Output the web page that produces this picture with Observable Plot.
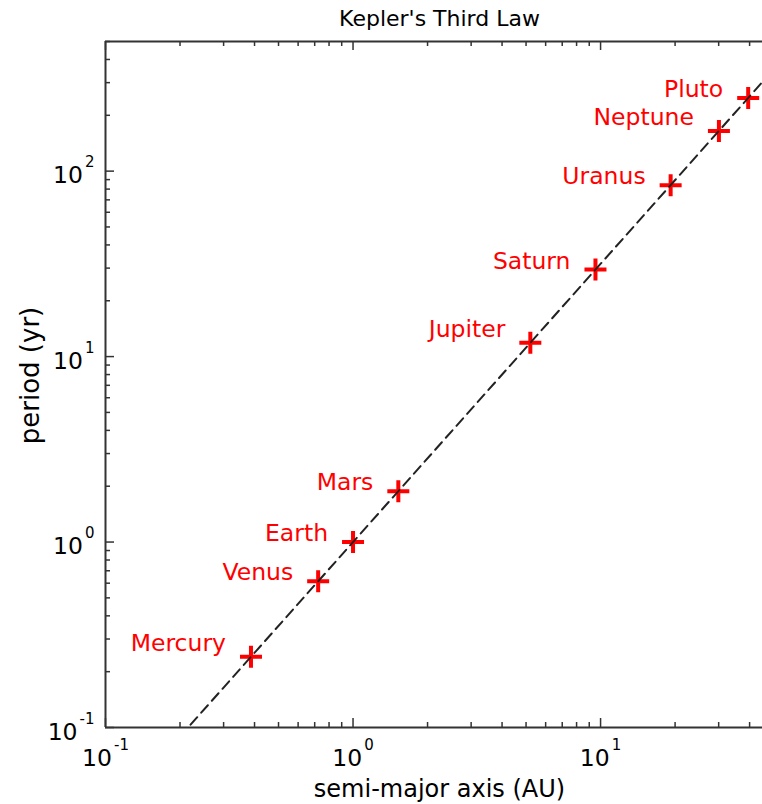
<!DOCTYPE html>
<html><head><meta charset="utf-8">
<script src="https://cdn.jsdelivr.net/npm/d3@7"></script>
<script src="https://cdn.jsdelivr.net/npm/@observablehq/plot@0.6"></script>
<style>body{margin:0;background:#fff} svg{display:block}</style>
</head><body><div id="chart"></div>
<script>
const planets = ["Mercury","Venus","Earth","Mars","Jupiter","Saturn","Uranus","Neptune","Pluto"];
const semiMajorAxis = [0.387, 0.723, 1.0, 1.524, 5.203, 9.537, 19.19, 30.07, 39.48];
const period = [0.2408, 0.6152, 1.0, 1.881, 11.86, 29.46, 84.01, 164.8, 248.1];
const fitAxis = [0.1, 50];
const fitPeriod = [0.0316, 353.6];
const xMajor = [0.1, 1, 10];
const yMajor = [0.1, 1, 10, 100];
const xDomain = [0.1, 45.1];
const yDomain = [0.1, 500];
const title = "Kepler's Third Law";
const xLabel = "semi-major axis (AU)";
const yLabel = "period (yr)";

const W = 762, H = 804, mL = 105, mR = 0, mT = 41, mB = 77;
const plotW = W - mL - mR, plotH = H - mT - mB;
function minors(major, max) {
  const out = [];
  for (const d of major) for (let k = 2; k <= 9; k++) { const v = d * k; if (v <= max * 1.0001) out.push(v); }
  return out;
}
const xMinor = minors(xMajor, xDomain[1]);
const yMinor = minors(yMajor, yDomain[1]);

const data = planets.map((name, i) => ({name, a: semiMajorAxis[i], T: period[i]}));
const fit = fitAxis.map((a, i) => ({a, T: fitPeriod[i]}));
const hasDesc = d => /[gjpqyJ]/.test(d.name);

const cross = {draw(ctx, size) {
  const r = Math.sqrt(size / Math.PI);
  ctx.moveTo(-r, 0); ctx.lineTo(r, 0); ctx.moveTo(0, -r); ctx.lineTo(0, r);
}};

const frameColor = "#333";
const majorLen = 9, minorLen = 5;
const labelSize = 23.5, tickSize = 23.5;

const svg = Plot.plot({
  width: W, height: H,
  marginLeft: mL, marginRight: mR, marginTop: mT, marginBottom: mB,
  style: {fontFamily: "DejaVu Sans", fontSize: "22px", background: "white", color: "#000"},
  x: {type: "log", domain: xDomain, axis: null},
  y: {type: "log", domain: yDomain, axis: null},
  marks: [
    // inward ticks: bottom & top
    Plot.ruleX(xMajor, {x: d => d, insetTop: plotH - majorLen, stroke: frameColor, strokeWidth: 1.5}),
    Plot.ruleX(xMinor, {x: d => d, insetTop: plotH - minorLen, stroke: frameColor, strokeWidth: 1.5}),
    Plot.ruleX(xMajor, {x: d => d, insetBottom: plotH - majorLen, stroke: frameColor, strokeWidth: 1.5}),
    Plot.ruleX(xMinor, {x: d => d, insetBottom: plotH - minorLen, stroke: frameColor, strokeWidth: 1.5}),
    // inward ticks: left
    Plot.ruleY(yMajor, {y: d => d, insetRight: plotW - majorLen, stroke: frameColor, strokeWidth: 1.5}),
    Plot.ruleY(yMinor, {y: d => d, insetRight: plotW - minorLen, stroke: frameColor, strokeWidth: 1.5}),
    // frame (left, bottom, top)
    Plot.ruleX([xDomain[0]], {x: d => d, stroke: frameColor, strokeWidth: 2}),
    Plot.ruleY([yDomain[0], yDomain[1]], {y: d => d, stroke: frameColor, strokeWidth: 2}),
    // planets
    Plot.dot(data, {x: "a", y: "T", symbol: cross, r: 11, stroke: "#ff0000", strokeWidth: 4, fill: "none"}),
    // fit line
    Plot.line(fit, {x: "a", y: "T", stroke: "#222", strokeWidth: 2, strokeDasharray: "10,6", clip: true}),
    // labels
    Plot.text(data.filter(d => !hasDesc(d)), {x: "a", y: "T", text: "name", textAnchor: "end", lineAnchor: "bottom", dx: -25, dy: -1, fill: "#ff0000", fontSize: labelSize}),
    Plot.text(data.filter(hasDesc), {x: "a", y: "T", text: "name", textAnchor: "end", lineAnchor: "bottom", dx: -25, dy: -6, fill: "#ff0000", fontSize: labelSize}),
    // tick labels
    Plot.text(xMajor, {x: d => d, frameAnchor: "bottom", text: d => "10^" + Math.round(Math.log10(d)), textAnchor: "middle", lineAnchor: "bottom", dy: 38, fontSize: tickSize, fill: "#000"}),
    Plot.text(yMajor, {y: d => d, frameAnchor: "left", text: d => "10^" + Math.round(Math.log10(d)), textAnchor: "end", lineAnchor: "bottom", dx: -11, dy: 12, fontSize: tickSize, fill: "#000"}),
    // titles
    Plot.text([title], {frameAnchor: "top", textAnchor: "middle", dx: 5.5, dy: -16, lineAnchor: "bottom", fontSize: 22, fill: "#000"}),
    Plot.text([xLabel], {frameAnchor: "bottom", textAnchor: "middle", dx: 5.5, dy: 69, lineAnchor: "bottom", fontSize: 24, fill: "#000"}),
    Plot.text([yLabel], {frameAnchor: "left", textAnchor: "middle", rotate: -90, dx: -67, dy: -9, lineAnchor: "bottom", fontSize: 26, fill: "#000"})
  ]
});

d3.select(svg).selectAll("text").each(function() {
  const m = /^10\^(.+)$/.exec(this.textContent);
  if (!m) return;
  const sel = d3.select(this);
  sel.text(null);
  sel.append("tspan").text("10");
  sel.append("tspan").attr("dx", 2).attr("dy", -16).attr("font-size", 15).text(m[1]);
});

document.getElementById("chart").appendChild(svg);
</script>
</body></html>
